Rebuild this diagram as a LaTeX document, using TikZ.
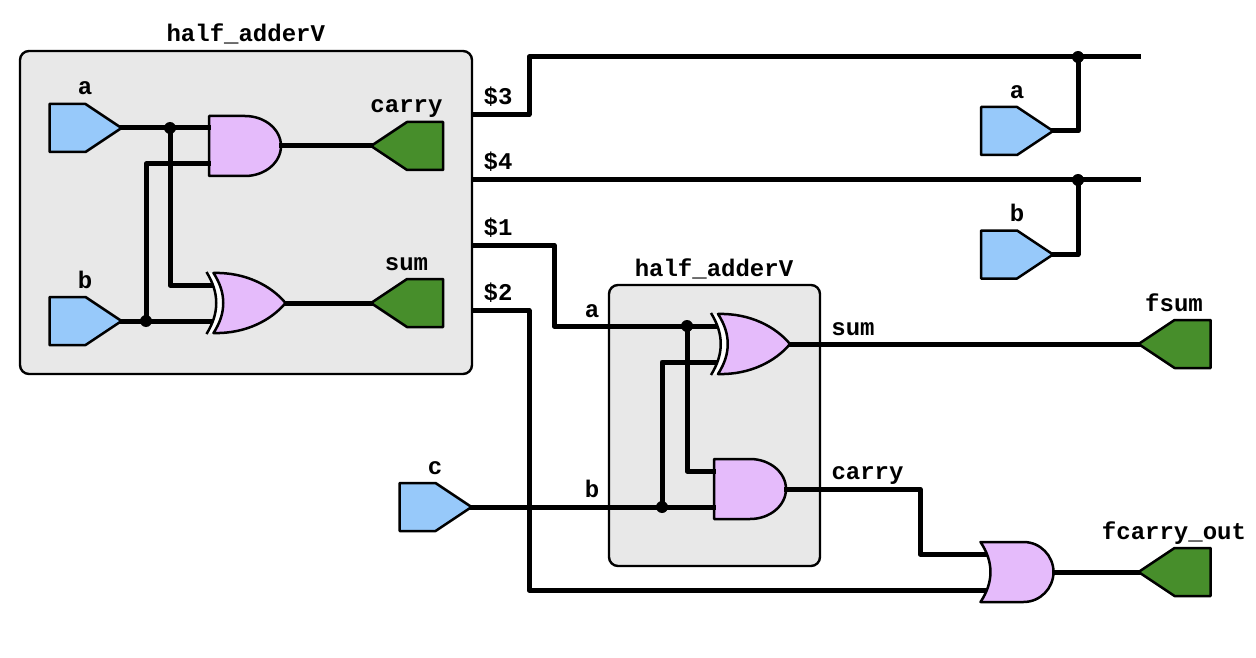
\documentclass[tikz,border=0pt]{standalone}
\usepackage{fontspec}
\setmainfont{Liberation Mono}[BoldFont={Liberation Mono Bold}]
\definecolor{boxgray}{HTML}{E8E8E8}
\definecolor{inblue}{HTML}{97C9FA}
\definecolor{outgreen}{HTML}{478E2B}
\definecolor{gatepink}{HTML}{E5BBFB}
\tikzset{
  x=1pt,y=-1pt,
  wire/.style={line width=5pt,line join=round,line cap=rect},
  edge/.style={draw=black,line width=2.5pt,line join=round},
  modbox/.style={draw=black,line width=2.4pt,fill=boxgray,rounded corners=9pt,inner sep=0pt,outer sep=0pt},
  lbl/.style={anchor=base,font=\fontsize{24pt}{24pt}\selectfont\bfseries,inner sep=0pt},
  dotj/.style={circle,fill=black,inner sep=0pt,minimum size=12pt},
}
\newcommand{\inpin}[3]{% name, left x, mid y
  \begin{scope}[shift={(#2,#3)}]
    \draw[edge,fill=inblue] (0,-24) -- (36,-24) -- (72,0) -- (36,24) -- (0,24) -- cycle;
    \coordinate (#1) at (72,0);
  \end{scope}}
\newcommand{\outpin}[3]{% name, tip x, mid y
  \begin{scope}[shift={(#2,#3)}]
    \draw[edge,fill=outgreen] (0,0) -- (36,-24) -- (72,-24) -- (72,24) -- (36,24) -- cycle;
    \coordinate (#1) at (0,0);
  \end{scope}}
\newcommand{\andshape}[3]{%
  \begin{scope}[shift={(#2,#3)}]
    \draw[edge,fill=gatepink] (0,-30) -- (36,-30) .. controls (56,-30) and (72,-16.5) .. (72,0)
      .. controls (72,16.5) and (56,30) .. (36,30) -- (0,30) -- cycle;
  \end{scope}}
\newcommand{\orshape}[3]{%
  \begin{scope}[shift={(#2,#3)}]
    \draw[edge,fill=gatepink] (0,-30) -- (43,-30) .. controls (60,-30) and (73,-16) .. (73,0)
      .. controls (73,16) and (60,30) .. (43,30) -- (0,30) .. controls (13.3,10) and (13.3,-10) .. (0,-30) -- cycle;
  \end{scope}}
\newcommand{\xorshape}[3]{%
  \begin{scope}[shift={(#2,#3)}]
    \fill[white] (-7,-30) .. controls (6,-10) and (6,10) .. (-7,30) -- (0,30) .. controls (13,10) and (13,-10) .. (0,-30) -- cycle;
    \draw[edge,line cap=butt] (-7,-31) .. controls (6,-10) and (6,10) .. (-7,31);
    \draw[edge,fill=gatepink] (0,-30) .. controls (32,-31) and (58,-17) .. (72,0)
      .. controls (58,17) and (32,31) .. (0,30) .. controls (13,10) and (13,-10) .. (0,-30) -- cycle;
  \end{scope}}
\begin{document}
\begin{tikzpicture}
\useasboundingbox (0,0) rectangle (1256,658);
% modules
\node[modbox,minimum width=452pt,minimum height=323pt] (m1) at (246,212.5) {};
\node[modbox,minimum width=211pt,minimum height=281pt] (m2) at (714.5,425.5) {};
% ports of gates
\coordinate (and1i1) at (208,128); \coordinate (and1i2) at (208,164); \coordinate (and1o) at (281,146);
\coordinate (xor1i1) at (212,285); \coordinate (xor1i2) at (212,321); \coordinate (xor1o) at (286,303);
\coordinate (and2i1) at (713,471); \coordinate (and2i2) at (713,507); \coordinate (and2o) at (786,489);
\coordinate (xor2i1) at (717,326); \coordinate (xor2i2) at (717,362); \coordinate (xor2o) at (790,344);
\coordinate (ori1) at (988,554); \coordinate (ori2) at (988,590); \coordinate (oro) at (1053,572);
% junctions and bends
\coordinate (ja1) at (170,128); \coordinate (jb1) at (146,321);
\coordinate (p3) at (473,114.5); \coordinate (p4) at (473,180); \coordinate (p1) at (473,245); \coordinate (p2) at (473,310.5);
\coordinate (e3) at (1138,57); \coordinate (e4) at (1138,180);
\coordinate (j3) at (1078,57); \coordinate (j4) at (1078,180);
\coordinate (ja2) at (687,326); \coordinate (jb2) at (662,507);
% pins
\inpin{ina}{49.5}{128}
\inpin{inb}{49.5}{321}
\inpin{topa}{981}{131}
\inpin{topb}{981}{254.5}
\inpin{topc}{399.5}{507}
\outpin{outc}{371}{146}
\outpin{outs}{371}{303}
\outpin{fsum}{1138.5}{344}
\outpin{fcarry}{1138.5}{572}
\andshape{and1}{209}{146}
\andshape{and2}{714}{489}
% wires
\draw[wire] (ina) -- (and1i1);
\draw[wire] (ja1) |- (xor1i1);
\draw[wire] (inb) -- (xor1i2);
\draw[wire] (jb1) |- (and1i2);
\draw[wire] (and1o) -- (outc);
\draw[wire] (xor1o) -- (outs);
\draw[wire] (p3) -| (529,57) -- (e3);
\draw[wire] (j3) |- (topa);
\draw[wire] (p4) -- (e4);
\draw[wire] (j4) |- (topb);
\draw[wire] (p1) -| (554,326) -- (xor2i1);
\draw[wire] (ja2) |- (and2i1);
\draw[wire] (p2) -| (529,590) -- (ori2);
\draw[wire] (topc) -- (and2i2);
\draw[wire] (jb2) |- (xor2i2);
\draw[wire] (xor2o) -- (fsum);
\draw[wire] (and2o) -| (920,554) -- (ori1);
\draw[wire] (oro) -- (fcarry);
% junction dots
\node[dotj] (d1) at (ja1) {};
\node[dotj] (d2) at (jb1) {};
\node[dotj] (d3) at (j3) {};
\node[dotj] (d4) at (j4) {};
\node[dotj] (d5) at (ja2) {};
\node[dotj] (d6) at (jb2) {};
% gates over wires
\xorshape{xor1}{213.5}{303}
\xorshape{xor2}{718}{344}
\orshape{or1}{980.5}{572}
% labels
\node[lbl] (l1) at (245.8,42) {half\_adderV};
\node[lbl] (l2) at (85,95) {a};
\node[lbl] (l3) at (85,288) {b};
\node[lbl] (l4) at (406.5,113) {carry};
\node[lbl] (l5) at (406.5,270) {sum};
\node[lbl] (l6) at (498,105) {\$3};
\node[lbl] (l7) at (498,169) {\$4};
\node[lbl] (l8) at (498,235) {\$1};
\node[lbl] (l9) at (498,300) {\$2};
\node[lbl] (l10) at (1017,99) {a};
\node[lbl] (l11) at (1017,222) {b};
\node[lbl] (l12) at (714,276) {half\_adderV};
\node[lbl] (l13) at (592,317) {a};
\node[lbl] (l14) at (592,497) {b};
\node[lbl] (l15) at (853,335) {sum};
\node[lbl] (l16) at (867.5,479) {carry};
\node[lbl] (l17) at (435,474) {c};
\node[lbl] (l18) at (1174,311) {fsum};
\node[lbl] (l19) at (1174,539) {fcarry\_out};
\end{tikzpicture}
\end{document}
